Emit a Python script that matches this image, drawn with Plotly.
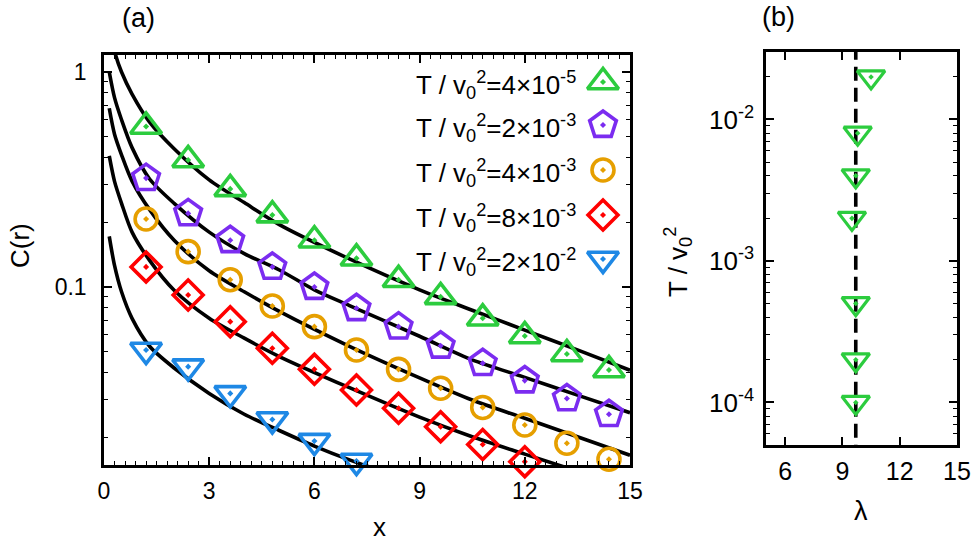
import math
import plotly.graph_objects as go

# ---------------- data: panel (a) ----------------
x_pts = [1.2, 2.4, 3.6, 4.8, 6.0, 7.2, 8.4, 9.6, 10.8, 12.0, 13.2, 14.4]
c_green = [0.558, 0.39, 0.286, 0.216, 0.165, 0.136, 0.108, 0.090, 0.0715, 0.0592, 0.0488, 0.0411]
c_purple = [0.321, 0.220, 0.165, 0.124, 0.100, 0.0796, 0.0654, 0.0533, 0.0442, 0.0367, 0.0303, 0.0256]
c_orange = [0.207, 0.146, 0.108, 0.0816, 0.0654, 0.0509, 0.0414, 0.0338, 0.0275, 0.0228, 0.01875, 0.0158]
c_red = [0.124, 0.0918, 0.069, 0.0519, 0.0414, 0.0332, 0.0273, 0.0224, 0.0185, 0.0154]
c_blue = [0.0509, 0.0426, 0.032, 0.0242, 0.0192, 0.0155]

fit_x1 = [0.15, 0.3, 0.5, 0.8, 1.3, 2, 3, 4, 5, 7, 9, 10.5, 12, 13.5, 15]
fit_c1 = [1.7, 1.25, 1.0, 0.79, 0.585, 0.44, 0.315, 0.247, 0.195, 0.135, 0.097, 0.078, 0.063, 0.051, 0.041]
fit_x2 = [0.15, 0.3, 0.5, 0.8, 1.3, 2, 3, 4, 5, 6, 7, 9, 10.5, 12, 13.5, 15]
fit_c2 = [1.0, 0.76, 0.60, 0.445, 0.318, 0.245, 0.18, 0.143, 0.12, 0.097, 0.082, 0.059, 0.0458, 0.038, 0.0314, 0.026]
fit_x3 = [0.15, 0.3, 0.5, 0.8, 1.3, 2, 3, 4, 5, 7, 9, 10.5, 12, 13.5, 15]
fit_c3 = [0.678, 0.514, 0.412, 0.311, 0.229, 0.165, 0.119, 0.095, 0.077, 0.053, 0.0378, 0.0298, 0.0245, 0.0201, 0.0165]
fit_x4 = [0.15, 0.3, 0.5, 0.8, 1.3, 2, 3, 4, 5, 7, 9, 10.5, 12, 13.5]
fit_c4 = [0.407, 0.31, 0.245, 0.18, 0.133, 0.0966, 0.0716, 0.0578, 0.0475, 0.034, 0.0248, 0.0201, 0.0167, 0.0139]
fit_x5 = [0.15, 0.3, 0.5, 0.8, 1.3, 2, 3, 4, 5, 6, 7, 7.6]
fit_c5 = [0.172, 0.126, 0.095, 0.0715, 0.053, 0.042, 0.032, 0.0256, 0.0215, 0.0182, 0.0157, 0.0145]

legend_labels = [
    "T / v<sub>0</sub><sup>2</sup>=4×10<sup>-5</sup>",
    "T / v<sub>0</sub><sup>2</sup>=2×10<sup>-3</sup>",
    "T / v<sub>0</sub><sup>2</sup>=4×10<sup>-3</sup>",
    "T / v<sub>0</sub><sup>2</sup>=8×10<sup>-3</sup>",
    "T / v<sub>0</sub><sup>2</sup>=2×10<sup>-2</sup>",
]

# ---------------- data: panel (b) ----------------
lam = [10.5, 9.8, 9.7, 9.5, 9.7, 9.7, 9.7]
temp = [2e-2, 8e-3, 4e-3, 2e-3, 5e-4, 2e-4, 1e-4]
lam_mean = 9.7

xa_ticks = [0, 3, 6, 9, 12, 15]
ya_tickvals = [0.1, 1]
ya_ticktext = ["0.1", "1"]
xb_ticks = [6, 9, 12, 15]
yb_tickvals = [1e-4, 1e-3, 1e-2]
yb_ticktext = ["10<sup>-4</sup>", "10<sup>-3</sup>", "10<sup>-2</sup>"]

# ---------------- styling ----------------
W, H = 975, 546
FONT = "Liberation Sans, Arial, Helvetica, sans-serif"
colors = ["#2ccc3e", "#7b2cf0", "#e69f00", "#ff0000", "#1e88e5"]
symbols = ["triangle-up-open-dot", "pentagon-open-dot", "circle-open-dot",
           "diamond-open-dot", "triangle-down-open-dot"]
sizes = [27, 28, 22, 23, 27]

# pixel frame geometry
ax_l, ax_r, ax_t, ax_b = 104, 630, 55, 465
bx_l, bx_r, bx_t, bx_b = 766, 957, 52, 445

def xdom(l, r):
    return [l / W, r / W]

def ydom(t, b):
    return [(H - b) / H, (H - t) / H]

fig = go.Figure()

series = [c_green, c_purple, c_orange, c_red, c_blue]
fits = [(fit_x1, fit_c1), (fit_x2, fit_c2), (fit_x3, fit_c3), (fit_x4, fit_c4), (fit_x5, fit_c5)]

for fx, fc in fits:
    fig.add_trace(go.Scatter(x=fx, y=fc, mode="lines",
                             line=dict(color="black", width=3.6, shape="spline", smoothing=0.8),
                             showlegend=False, xaxis="x", yaxis="y"))

for s, col, sym, sz in zip(series, colors, symbols, sizes):
    fig.add_trace(go.Scatter(x=x_pts[:len(s)], y=s, mode="markers",
                             marker=dict(symbol=sym, size=sz, color=col,
                                         line=dict(color=col, width=3.6)),
                             cliponaxis=False, showlegend=False, xaxis="x", yaxis="y"))

# legend keys on an invisible overlay axis (0..1 within panel a)
leg_rows_px = [82, 125, 170, 215, 259]
leg_x_px = 603
for i, (col, sym, sz) in enumerate(zip(colors, symbols, sizes)):
    fx = (leg_x_px - ax_l) / (ax_r - ax_l)
    fy = (ax_b - leg_rows_px[i]) / (ax_b - ax_t)
    fig.add_trace(go.Scatter(x=[fx], y=[fy], mode="markers",
                             marker=dict(symbol=sym, size=sz, color=col,
                                         line=dict(color=col, width=3.6)),
                             cliponaxis=False, showlegend=False, xaxis="x3", yaxis="y3"))

# panel (b)
fig.add_trace(go.Scatter(x=[lam_mean, lam_mean], y=[4e-5, 4e-2], mode="lines",
                         line=dict(color="black", width=3.6, dash="14px,7px"),
                         showlegend=False, xaxis="x2", yaxis="y2"))
fig.add_trace(go.Scatter(x=lam, y=temp, mode="markers",
                         marker=dict(symbol="triangle-down-open-dot", size=24, color=colors[0],
                                     line=dict(color=colors[0], width=3.2)),
                         cliponaxis=False, showlegend=False, xaxis="x2", yaxis="y2"))

annotations = []
for i, lab in enumerate(legend_labels):
    annotations.append(dict(text=lab, xref="paper", yref="paper", x=578 / W,
                            y=(H - leg_rows_px[i] - 3) / H, xanchor="right", yanchor="middle",
                            showarrow=False, font=dict(size=26, color="black", family=FONT)))

def ann(text, px, py, size=26, angle=0):
    annotations.append(dict(text=text, xref="paper", yref="paper", x=px / W, y=(H - py) / H,
                            xanchor="center", yanchor="middle", showarrow=False,
                            textangle=angle, font=dict(size=size, color="black", family=FONT)))

ann("(a)", 138, 18, size=27)
ann("(b)", 778, 17, size=27)
ann("C(r)", 20, 246, angle=-90)
ann("x", 379, 527)
ann("λ", 861, 511, size=27)
ann("T / v<sub>0</sub><sup>2</sup>", 678, 262, angle=-90)

minor_a = [k * 10 ** e for e in (-2, -1) for k in range(2, 10)]
minor_b = [k * 10 ** e for e in (-5, -4, -3, -2) for k in range(2, 10)]

def axis_common(fs):
    return dict(showline=True, linecolor="black", linewidth=2.5, mirror="ticks",
                ticks="inside", ticklen=8, tickwidth=1.6, tickcolor="black",
                showgrid=False, zeroline=False, automargin=False,
                tickfont=dict(size=fs, color="black", family=FONT))

fig.update_layout(
    template="none",
    width=W, height=H, margin=dict(l=0, r=0, t=0, b=0, pad=0),
    paper_bgcolor="white", plot_bgcolor="white",
    showlegend=False,
    xaxis=dict(domain=xdom(ax_l, ax_r), range=[0, 15], anchor="y",
               tickmode="array", tickvals=xa_ticks, ticklabelstandoff=4,
               minor=dict(ticks="inside", ticklen=4, tickwidth=1.2, tickcolor="black",
                          tick0=0, dtick=0.3),
               **axis_common(23)),
    yaxis=dict(domain=ydom(ax_t, ax_b), type="log",
               range=[math.log10(0.01486), math.log10(1.2)], anchor="x",
               tickmode="array", tickvals=ya_tickvals, ticktext=ya_ticktext,
               ticklabelstandoff=10,
               minor=dict(ticks="inside", ticklen=4, tickwidth=1.2, tickcolor="black",
                          tickmode="array", tickvals=minor_a),
               **axis_common(23)),
    xaxis2=dict(domain=xdom(bx_l, bx_r), range=[5, 15], anchor="y2",
                tickmode="array", tickvals=xb_ticks, ticklabelstandoff=2,
                **axis_common(25)),
    yaxis2=dict(domain=ydom(bx_t, bx_b), type="log",
                range=[math.log10(5e-5), math.log10(0.03)], anchor="x2",
                tickmode="array", tickvals=yb_tickvals, ticktext=yb_ticktext,
                ticklabelstandoff=4,
                minor=dict(ticks="inside", ticklen=4, tickwidth=1.2, tickcolor="black",
                           tickmode="array", tickvals=minor_b),
                **axis_common(26)),
    xaxis3=dict(overlaying="x", range=[0, 1], anchor="y3", visible=False),
    yaxis3=dict(overlaying="y", range=[0, 1], anchor="x3", visible=False),
    annotations=annotations,
)

fig.write_html("out.html", config={"displayModeBar": False},
               post_script="document.body.style.margin='0';"
                           "document.body.style.padding='0';"
                           "document.body.style.overflow='hidden';")
